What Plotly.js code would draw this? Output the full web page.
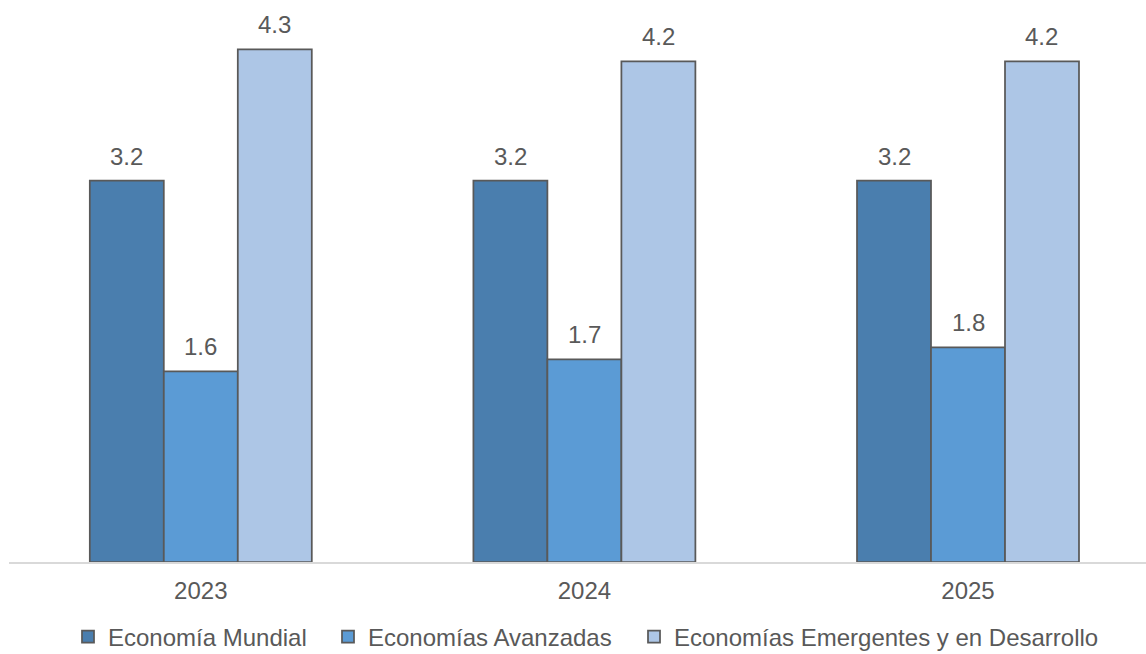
<!DOCTYPE html>
<html>
<head>
<meta charset="utf-8">
<script src="https://cdn.plot.ly/plotly-3.0.1.min.js"></script>
<style>html,body{margin:0;padding:0;background:#fff;}#chart{width:1146px;height:654px;}</style>
</head>
<body>
<div id="chart"></div>
<script>
const categories = ['2023', '2024', '2025'];
const seriesNames = ['Economía Mundial', 'Economías Avanzadas', 'Economías Emergentes y en Desarrollo'];
const mundial = [3.2, 3.2, 3.2];
const avanzadas = [1.6, 1.7, 1.8];
const emergentes = [4.3, 4.2, 4.2];
const colors = ['#4a7eae', '#5b9bd5', '#adc6e6'];

const seriesValues = [mundial, avanzadas, emergentes];
const W = 1146, H = 654;
const mL = 9, mR = 0, mT = 20, mB = 92;
const plotW = W - mL - mR;
const pxPerCat = 383.6;
const xMax = -0.5 + plotW / pxPerCat;
const bargap = 0.4213;
const barPx = pxPerCat * (1 - bargap) / 3;
const pxPerUnit = 119.2;
const yMax = (H - mT - mB) / pxPerUnit;
const fontFam = '"Liberation Sans", Arial, sans-serif';
const txtColor = '#595959';
const legendNames = ['legend', 'legend2', 'legend3'];
const legendLeft = [68, 328, 634];

const traces = seriesValues.map((vals, i) => ({
  type: 'bar',
  name: seriesNames[i],
  x: categories,
  y: vals,
  legend: legendNames[i],
  marker: {color: colors[i], line: {color: '#595959', width: 1.75}},
  hoverinfo: 'none'
}));

const annotations = [];
seriesValues.forEach((vals, i) => {
  vals.forEach((v, j) => {
    annotations.push({
      x: j, y: v, xref: 'x', yref: 'y',
      text: v.toFixed(1), showarrow: false,
      xanchor: 'center', yanchor: 'bottom',
      xshift: (i - 1) * barPx, yshift: 9,
      font: {family: fontFam, size: 24, color: txtColor}
    });
  });
});

const layout = {
  width: W, height: H,
  margin: {l: mL, r: mR, t: mT, b: mB, pad: 0},
  paper_bgcolor: '#ffffff', plot_bgcolor: '#ffffff',
  barmode: 'group', bargap: bargap, bargroupgap: 0,
  font: {family: fontFam, size: 24, color: txtColor},
  xaxis: {
    type: 'category', range: [-0.5, xMax], fixedrange: true,
    showline: true, linecolor: '#d9d9d9', linewidth: 2,
    ticks: '', showgrid: false, zeroline: false, ticklabelstandoff: 6,
    tickfont: {family: fontFam, size: 24, color: txtColor}
  },
  yaxis: {
    range: [0, yMax], visible: false, showgrid: false, zeroline: false, fixedrange: true
  },
  showlegend: true,
  annotations: annotations
};
legendNames.forEach((ln, i) => {
  layout[ln] = {
    orientation: 'h', xref: 'container', yref: 'container',
    x: legendLeft[i] / W, xanchor: 'left', y: 0.026, yanchor: 'middle',
    font: {family: fontFam, size: 24, color: txtColor},
    bgcolor: 'rgba(0,0,0,0)', itemclick: false
  };
});

Plotly.newPlot('chart', traces, layout, {displayModeBar: false, staticPlot: true});
</script>
</body>
</html>
